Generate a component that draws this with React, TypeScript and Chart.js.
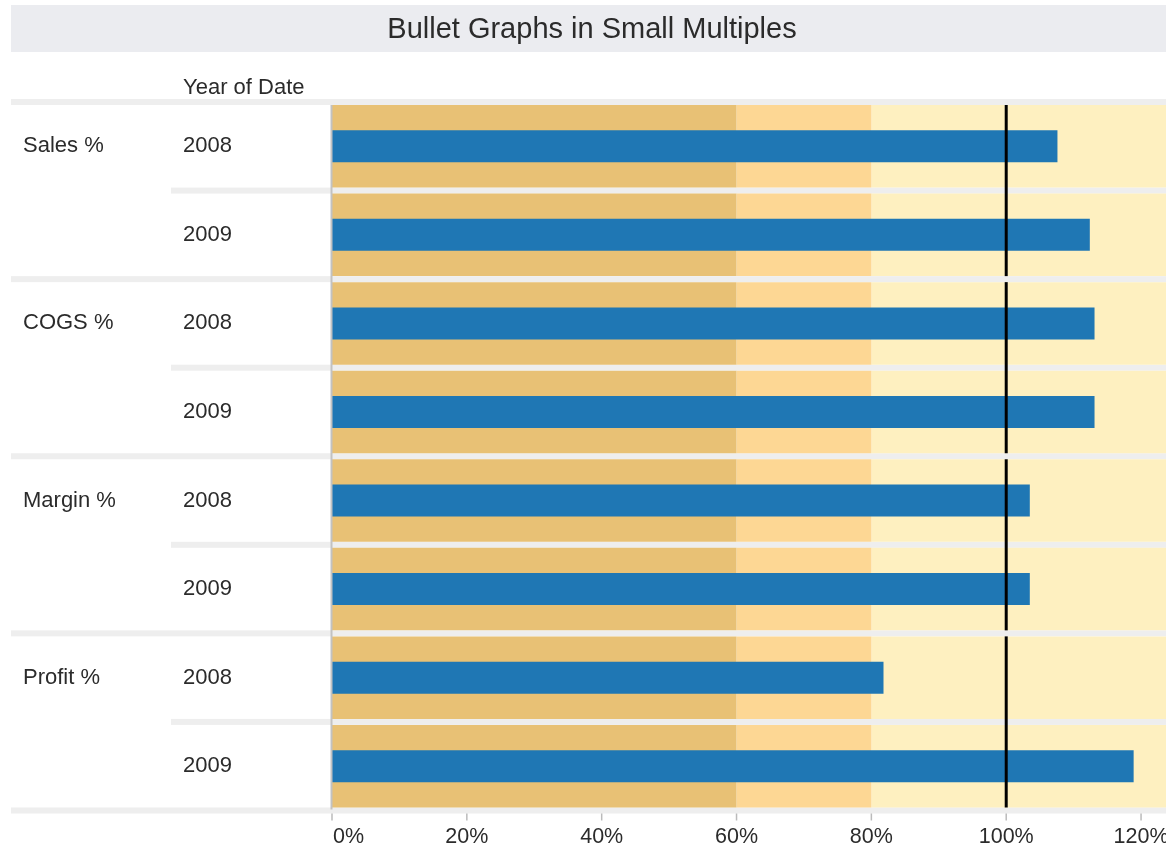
import React, { useEffect, useRef } from 'react';
import { Chart, registerables } from 'chart.js';

Chart.register(...registerables);

const chartTitle = 'Bullet Graphs in Small Multiples';
const rowHeader = 'Year of Date';
const measures = ['Sales %', 'COGS %', 'Margin %', 'Profit %'];
const years = ['2008', '2009'];
const actual2008 = [107.6, 113.1, 103.5, 81.8];
const actual2009 = [112.4, 113.1, 103.5, 118.9];
const targets = [100, 100, 100, 100];
const bandEdges = [0, 60, 80];
const axisMax = 123.7;
const xTickValues = [0, 20, 40, 60, 80, 100, 120];
const bandColors = ['#E8C175', '#FDD794', '#FEF0C0'];
const barColor = '#1F77B4';

const FONT = "'Liberation Sans', Arial, sans-serif";
const TEXT = '#2B2B2B';
const SEP = '#EEEEEE';

const rowLabels = measures.flatMap((m) => years.map((y) => `${m} ${y}`));
const rowValues = measures.flatMap((_, i) => [actual2008[i], actual2009[i]]);

const bulletPlugin = {
  id: 'bulletDecor',
  beforeDatasetsDraw(chart: any) {
    const { ctx } = chart;
    const y = chart.scales.y;
    const rowH = y.getPixelForValue(1) - y.getPixelForValue(0);
    const b0 = y.getPixelForValue(0) - rowH / 2;
    const W = chart.width;
    ctx.save();
    // title bar
    ctx.fillStyle = '#EBECF0';
    ctx.fillRect(11, 5, W - 11, 47);
    ctx.fillStyle = TEXT;
    ctx.font = `29px ${FONT}`;
    ctx.textAlign = 'center';
    ctx.textBaseline = 'middle';
    ctx.fillText(chartTitle, 592, 30);
    // header
    ctx.font = `22px ${FONT}`;
    ctx.textAlign = 'left';
    ctx.fillText(rowHeader, 183, 88);
    // separators
    ctx.fillStyle = SEP;
    for (let i = 0; i <= rowLabels.length; i++) {
      const yy = b0 + i * rowH;
      const x0 = i % years.length === 0 ? 11 : 171;
      ctx.fillRect(x0, yy - 3, W - x0, 6);
    }
    // row labels
    ctx.fillStyle = TEXT;
    ctx.font = `22px ${FONT}`;
    rowLabels.forEach((_, r) => {
      const yc = y.getPixelForValue(r);
      if (r % years.length === 0) ctx.fillText(measures[r / years.length], 23, yc);
      ctx.fillText(years[r % years.length], 183, yc);
    });
    ctx.restore();
  },
  afterDatasetsDraw(chart: any) {
    const { ctx } = chart;
    const x = chart.scales.x;
    const y = chart.scales.y;
    const rowH = y.getPixelForValue(1) - y.getPixelForValue(0);
    const b0 = y.getPixelForValue(0) - rowH / 2;
    const bEnd = b0 + rowLabels.length * rowH;
    ctx.save();
    // left axis line
    const xz = x.getPixelForValue(0);
    ctx.strokeStyle = '#C2C2C2';
    ctx.lineWidth = 2;
    ctx.beginPath();
    ctx.moveTo(xz - 0.5, b0 + 3);
    ctx.lineTo(xz - 0.5, bEnd - 1);
    ctx.stroke();
    // target lines per measure pane
    ctx.strokeStyle = '#000000';
    ctx.lineWidth = 3;
    measures.forEach((_, m) => {
      const xp = x.getPixelForValue(targets[m]);
      const yTop = b0 + m * years.length * rowH + 3;
      const yBot = b0 + (m + 1) * years.length * rowH - 3;
      ctx.beginPath();
      ctx.moveTo(xp, yTop);
      ctx.lineTo(xp, yBot);
      ctx.stroke();
    });
    // x tick marks and labels
    ctx.strokeStyle = '#BBBBBB';
    ctx.lineWidth = 1.5;
    ctx.fillStyle = TEXT;
    ctx.font = `21.5px ${FONT}`;
    ctx.textBaseline = 'middle';
    xTickValues.forEach((v, i) => {
      const px = x.getPixelForValue(v);
      ctx.beginPath();
      ctx.moveTo(px, bEnd + 3);
      ctx.lineTo(px, bEnd + 10);
      ctx.stroke();
      ctx.textAlign = i === 0 ? 'left' : 'center';
      ctx.fillText(`${v}%`, i === 0 ? px + 1 : px, bEnd + 27);
    });
    ctx.restore();
  },
};

export default function App() {
  const canvasRef = useRef<HTMLCanvasElement | null>(null);

  useEffect(() => {
    if (!canvasRef.current) return;
    const bandDatasets = bandEdges.map((lo, b) => ({
      label: `band${b}`,
      data: rowLabels.map(() => [lo, b + 1 < bandEdges.length ? bandEdges[b + 1] : axisMax]),
      backgroundColor: bandColors[b],
      borderWidth: 0,
      grouped: false,
      barPercentage: 1,
      categoryPercentage: 0.932,
      order: 2,
    }));
    const chart = new Chart(canvasRef.current, {
      type: 'bar',
      data: {
        labels: rowLabels,
        datasets: [
          ...bandDatasets,
          {
            label: 'Actual',
            data: rowValues,
            backgroundColor: barColor,
            borderWidth: 0,
            grouped: false,
            barPercentage: 1,
            categoryPercentage: 0.361,
            order: 1,
          },
        ] as any,
      },
      options: {
        indexAxis: 'y',
        responsive: false,
        animation: false,
        layout: { padding: { left: 332, top: 102, right: 0, bottom: 38.5 } },
        scales: {
          x: { type: 'linear', min: 0, max: axisMax, display: false },
          y: { type: 'category', display: false, offset: true },
        },
        plugins: {
          legend: { display: false },
          tooltip: { enabled: false },
          title: { display: false },
        },
      },
      plugins: [bulletPlugin],
    });
    return () => chart.destroy();
  }, []);

  return (
    <div style={{ position: 'absolute', left: 0, top: 0, width: 1166, height: 849, background: '#fff' }}>
      <canvas ref={canvasRef} width={1166} height={849} />
    </div>
  );
}
